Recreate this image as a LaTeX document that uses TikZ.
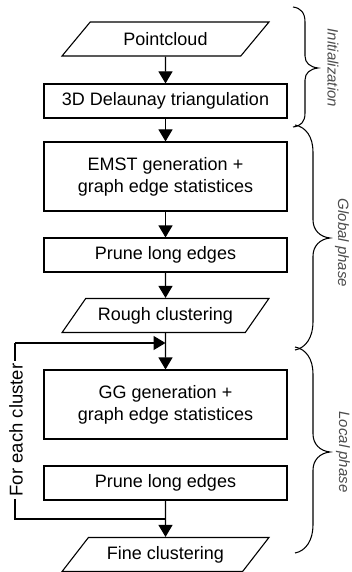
\documentclass[tikz,border=0pt]{standalone}
\usepackage{fontspec}
\setmainfont{Liberation Sans}
\usetikzlibrary{shapes.geometric,arrows.meta}
\begin{document}
\begin{tikzpicture}[x=1pt,y=-1pt,
  mainfont/.style={font=\fontsize{18}{22}\selectfont},
  box/.style={draw,line width=1.1pt,minimum width=243pt,inner sep=0pt,align=center,mainfont},
  io/.style={draw,trapezium,trapezium left angle=40,trapezium right angle=140,trapezium stretches=true,
    minimum width=207pt,minimum height=34pt,inner sep=0pt,line width=1.1pt,mainfont},
  flow/.style={line width=1.1pt,-{Triangle[width=14pt,length=12pt]}},
  plain/.style={line width=1.1pt},
  bracepath/.style={line width=1.05pt,black},
  phase/.style={rotate=-90,font=\fontsize{15}{18}\selectfont\itshape,text=black!70}]
\useasboundingbox (0,0) rectangle (352,572);

\node[io] (pc) at (165.5,39) {Pointcloud};
\node[box,minimum height=34pt] (del) at (165.5,101) {3D Delaunay triangulation};
\node[box,minimum height=69pt] (emst) at (165.5,176.5) {EMST generation +\\graph edge statistices};
\node[box,minimum height=34pt] (pr1) at (165.5,255) {Prune long edges};
\node[io] (rough) at (165.5,315.5) {Rough clustering};
\node[box,minimum height=69pt] (gg) at (165.5,404.5) {GG generation +\\graph edge statistices};
\node[box,minimum height=34pt] (pr2) at (165.5,483) {Prune long edges};
\node[io] (fine) at (165.5,554.5) {Fine clustering};

\draw[flow] (pc.south) -- (del.north);
\draw[flow] (del.south) -- (emst.north);
\draw[flow] (emst.south) -- (pr1.north);
\draw[flow] (pr1.south) -- (rough.south |- rough.north);
\draw[flow] (rough.south) -- (gg.north);
\draw[flow] (pr2.south) -- (fine.north);

\coordinate (lt) at (15,343);
\coordinate (lb) at (15,519);
\draw[plain] (pr2.south |- lb) -- (lb) -- (lt);
\draw[flow] (lt) -- (rough.south |- lt);
\node[rotate=90,fill=white,inner sep=3pt,font=\fontsize{18.5}{22}\selectfont] (fec) at (16,430) {For each cluster};

% braces
\draw[bracepath] (293,7) .. controls (301,8) and (305,13) .. (305,22) -- (305,56)
  .. controls (305,63) and (310,67) .. (318,68) .. controls (310,69) and (305,73) .. (305,80)
  -- (305,113) .. controls (305,122) and (301,126) .. (293,127);
\draw[bracepath] (295,125) .. controls (306,127) and (313,137) .. (313,152) -- (313,220)
  .. controls (313,230) and (320,237) .. (330,238) .. controls (320,239) and (313,246) .. (313,256)
  -- (313,322) .. controls (313,337) and (306,348) .. (295,350);
\draw[bracepath] (295,347) .. controls (306,349) and (313,359) .. (313,374) -- (313,434)
  .. controls (313,444) and (320,451) .. (330,452) .. controls (320,453) and (313,460) .. (313,470)
  -- (313,525) .. controls (313,540) and (306,551) .. (295,553);

\node[phase] (linit) at (333,68) {Initialization};
\node[phase] (lglob) at (342,243) {Global phase};
\node[phase] (lloc) at (343,452) {Local phase};
\end{tikzpicture}
\end{document}
